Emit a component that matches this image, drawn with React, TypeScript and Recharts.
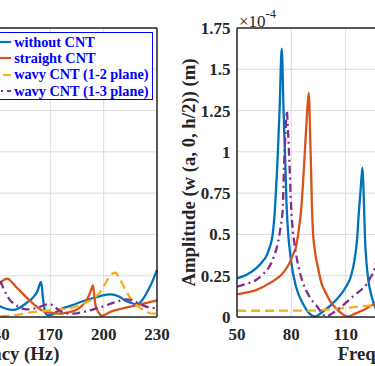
import { LineChart, Line, XAxis, YAxis, CartesianGrid, Legend } from "recharts";

const FONT = "'Liberation Serif', 'Times New Roman', serif";
const AXIS = "#262626";

const xTicks = [50, 80, 110, 140, 170, 200, 230];
const yTicks = [0, 0.25, 0.5, 0.75, 1, 1.25, 1.5, 1.75];

// left panel, [frequency (Hz), amplitude]
const leftWithout = [
  [138, 0.09], [141.9, 0.064], [145, 0.05], [149.3, 0.043], [153, 0.058], [156.9, 0.088],
  [160, 0.115], [162.5, 0.15], [164.8, 0.212], [165.9, 0.11], [167.2, 0.025], [168.5, 0.012],
  [170, 0.012], [173, 0.028], [175.6, 0.045], [182, 0.07], [188.7, 0.097], [194, 0.115],
  [198.1, 0.127], [203.7, 0.137], [206.5, 0.133], [209.4, 0.12], [212, 0.1], [215, 0.087],
  [218.8, 0.077], [221.5, 0.1], [224.4, 0.15], [227, 0.205], [230, 0.285],
];
const leftStraight = [
  [138, 0.16], [141.9, 0.205], [144, 0.225], [146, 0.232], [148, 0.215], [150.5, 0.185],
  [153.1, 0.157], [156, 0.125], [158.7, 0.097], [161.5, 0.07], [164.4, 0.046], [167, 0.033],
  [170, 0.026], [175.6, 0.02], [180, 0.028], [185, 0.046], [188, 0.07], [190.6, 0.105],
  [192.5, 0.15], [194, 0.192], [194.7, 0.13], [195.3, 0.077], [196.3, 0.045], [197.2, 0.026],
  [199.1, 0.006], [201, 0.015], [203.7, 0.03], [210, 0.05], [216.8, 0.067], [223, 0.083],
  [230, 0.101],
];
const leftWavy12 = [
  [141.9, 0.005], [145, 0.006], [150, 0.012], [155, 0.02], [160, 0.03], [165, 0.035],
  [170, 0.04], [175, 0.045], [180, 0.052], [185, 0.065], [188.7, 0.082], [192.5, 0.1],
  [196, 0.127], [199, 0.165], [201.7, 0.218], [204, 0.255], [206.5, 0.268], [208.5, 0.245],
  [210.2, 0.208], [212.5, 0.16], [214.9, 0.117], [217.5, 0.082], [220.5, 0.056], [223, 0.04],
  [225.2, 0.026], [228, 0.02], [230, 0.02],
];
const leftWavy13 = [
  [138, 0.32], [141.9, 0.218], [143.8, 0.17], [145.7, 0.128], [147.5, 0.1], [149.4, 0.082],
  [152, 0.062], [156.9, 0.046], [160.5, 0.05], [164.4, 0.063], [167.5, 0.075], [170, 0.077],
  [172.5, 0.06], [175, 0.04], [177.5, 0.026], [183.1, 0.02], [188.5, 0.03], [194.3, 0.046],
  [200, 0.065], [205.6, 0.087], [209.5, 0.1], [213, 0.107], [216, 0.1], [218.8, 0.087],
  [221.5, 0.073], [224.4, 0.061], [230, 0.053],
];

// right panel, [frequency (Hz), amplitude x1e-4 m]
const rightWithout = [
  [50, 0.234], [55, 0.254], [60.5, 0.294], [64, 0.335], [66, 0.365], [68, 0.42], [69.7, 0.5],
  [70.6, 0.6], [71.3, 0.72], [72.3, 0.93], [73.5, 1.25], [74.7, 1.625], [75.7, 1.25],
  [76.7, 0.92], [77.3, 0.7], [78, 0.546], [79.8, 0.345], [82.6, 0.183], [86.3, 0.083],
  [89.9, 0.022], [93.1, 0.003], [97.3, 0.032], [104.7, 0.103], [110.2, 0.183], [113, 0.25],
  [114.8, 0.34], [116.3, 0.47], [117.2, 0.62], [118.3, 0.78], [119.3, 0.905], [120, 0.72],
  [120.7, 0.47], [121.5, 0.33], [122.5, 0.224], [124.4, 0.123], [126.2, 0.062], [128, 0.03],
];
const rightStraight = [
  [50, 0.137], [55, 0.148], [60.5, 0.163], [64, 0.18], [67.8, 0.204], [71, 0.225],
  [73.4, 0.244], [76, 0.275], [78.9, 0.325], [81, 0.38], [82.6, 0.425], [84, 0.52],
  [85.4, 0.647], [86.4, 0.8], [87.2, 0.95], [88.4, 1.18], [89.6, 1.357], [90.4, 1.1],
  [90.9, 0.89], [91.3, 0.7], [91.8, 0.546], [93, 0.4], [94.6, 0.304], [96.5, 0.21],
  [99.2, 0.143], [101.5, 0.095], [104.7, 0.052], [108, 0.02], [111.2, 0.002], [114, 0.015],
  [117.6, 0.032], [122, 0.055], [126.2, 0.083], [129, 0.1],
];
const rightWavy12 = [
  [50, 0.038], [70, 0.038], [90, 0.039], [100, 0.045], [110, 0.055], [120, 0.066], [128, 0.074],
];
const rightWavy13 = [
  [50, 0.183], [55, 0.2], [60.5, 0.224], [64, 0.255], [67.8, 0.304], [70.5, 0.37],
  [72.5, 0.446], [74, 0.54], [75.2, 0.647], [76.1, 0.95], [76.8, 1.12], [77.5, 1.248],
  [78.2, 1.12], [79.1, 0.89], [79.8, 0.688], [80.6, 0.55], [81.7, 0.446], [84.4, 0.284],
  [88.1, 0.163], [90.5, 0.115], [93.6, 0.073], [96.5, 0.03], [99.2, 0.002], [102.5, 0.022],
  [106.5, 0.052], [113.9, 0.123], [117.5, 0.155], [121.3, 0.194], [124, 0.245], [126.2, 0.3],
  [128, 0.42],
];

const series = [
  { key: "without", name: "without CNT", color: "#0072BD", dash: undefined },
  { key: "straight", name: "straight CNT", color: "#D95319", dash: undefined },
  { key: "wavy12", name: "wavy CNT (1-2 plane)", color: "#EDB120", dash: "9 5" },
  { key: "wavy13", name: "wavy CNT (1-3 plane)", color: "#7E2F8E", dash: "8 4 2 4" },
];

const toPoints = (arr: number[][]) => arr.map(([f, a]) => ({ f, a }));

const leftData = [leftWithout, leftStraight, leftWavy12, leftWavy13].map(toPoints);
const rightData = [rightWithout, rightStraight, rightWavy12, rightWavy13].map(toPoints);

const tickStyle = { fill: AXIS, fontSize: 17, fontWeight: 700, fontFamily: FONT };
const labelStyle = { fill: AXIS, fontSize: 18.7, fontWeight: 700, fontFamily: FONT };

const LegendBox = () => (
  <div
    style={{
      border: "1.5px solid #0000ff",
      background: "#fff",
      padding: "1px 3px 0 4px",
      fontFamily: FONT,
      fontWeight: 700,
      fontSize: 14.3,
      lineHeight: "16.2px",
      color: "#0000ff",
      whiteSpace: "nowrap",
    }}
  >
    {series.map((s) => (
      <div key={s.key} style={{ display: "flex", alignItems: "center" }}>
        <svg width={22} height={8} style={{ marginRight: 3 }}>
          <line x1={0} y1={4} x2={22} y2={4} stroke={s.color} strokeWidth={2.2} strokeDasharray={s.dash} />
        </svg>
        <span>{s.name}</span>
      </div>
    ))}
  </div>
);

type PanelProps = {
  data: { f: number; a: number }[][];
  left: number;
  plotWidth: number;
  legend?: boolean;
};

const Panel = ({ data, left, plotWidth, legend }: PanelProps) => {
  const width = 60 + plotWidth + 20;
  return (
    <div style={{ position: "absolute", left, top: 0 }}>
      <LineChart width={width} height={366} margin={{ top: 28, right: 20, bottom: 0, left: 0 }}>
        <CartesianGrid stroke="#dcdcdc" strokeWidth={1} />
        <XAxis
          type="number"
          dataKey="f"
          domain={[50, 230]}
          ticks={xTicks}
          height={49}
          tickLine={false}
          tickSize={0}
          tickMargin={11}
          axisLine={{ stroke: AXIS, strokeWidth: 1.5 }}
          tick={tickStyle}
          label={{ value: "Frequency (Hz)", position: "insideBottom", offset: 6, style: labelStyle }}
        />
        <XAxis xAxisId="bt" type="number" domain={[50, 230]} ticks={xTicks} mirror tick={false} tickSize={5} axisLine={false} tickLine={{ stroke: AXIS }} />
        <XAxis xAxisId="top" orientation="top" type="number" domain={[50, 230]} ticks={xTicks} mirror tick={false} tickSize={5} axisLine={{ stroke: AXIS, strokeWidth: 1.5 }} tickLine={{ stroke: AXIS }} />
        <YAxis
          type="number"
          domain={[0, 1.75]}
          ticks={yTicks}
          width={60}
          tickLine={false}
          tickSize={0}
          tickMargin={6.5}
          axisLine={{ stroke: AXIS, strokeWidth: 1.5 }}
          tick={tickStyle}
          label={{
            value: "Amplitude (w (a, 0, h/2)) (m)",
            angle: -90,
            position: "insideLeft",
            offset: 11,
            style: { ...labelStyle, textAnchor: "middle" },
          }}
        />
        <YAxis yAxisId="lt" type="number" domain={[0, 1.75]} ticks={yTicks} mirror tick={false} tickSize={5} axisLine={false} tickLine={{ stroke: AXIS }} />
        <YAxis yAxisId="rt" orientation="right" type="number" domain={[0, 1.75]} ticks={yTicks} mirror tick={false} tickSize={5} axisLine={{ stroke: AXIS, strokeWidth: 1.5 }} tickLine={{ stroke: AXIS }} />
        {series.map((s, i) => (
          <Line
            key={s.key}
            data={data[i]}
            dataKey="a"
            name={s.name}
            type="monotone"
            stroke={s.color}
            strokeWidth={2.3}
            strokeDasharray={s.dash}
            dot={false}
            activeDot={false}
            isAnimationActive={false}
          />
        ))}
        {legend && (
          <Legend
            layout="horizontal"
            verticalAlign="middle"
            align="center"
            wrapperStyle={{ top: 32, right: 24.5, width: "auto", height: "auto" }}
            content={() => <LegendBox />}
          />
        )}
      </LineChart>
    </div>
  );
};

export default function App() {
  return (
    <div
      style={{
        position: "absolute",
        left: 0,
        top: 0,
        width: 375,
        height: 366,
        overflow: "hidden",
        background: "#fff",
      }}
    >
      <Panel data={leftData} left={-223} plotWidth={320} legend />
      <Panel data={rightData} left={177} plotWidth={326} />
      <svg width={120} height={30} style={{ position: "absolute", left: 0, top: 0, overflow: "visible" }}>
        <text x={239} y={27} fill={AXIS} fontFamily={FONT} fontSize={17}>
          ×10
          <tspan dy={-9} fontSize={12.5}>-4</tspan>
        </text>
      </svg>
    </div>
  );
}
